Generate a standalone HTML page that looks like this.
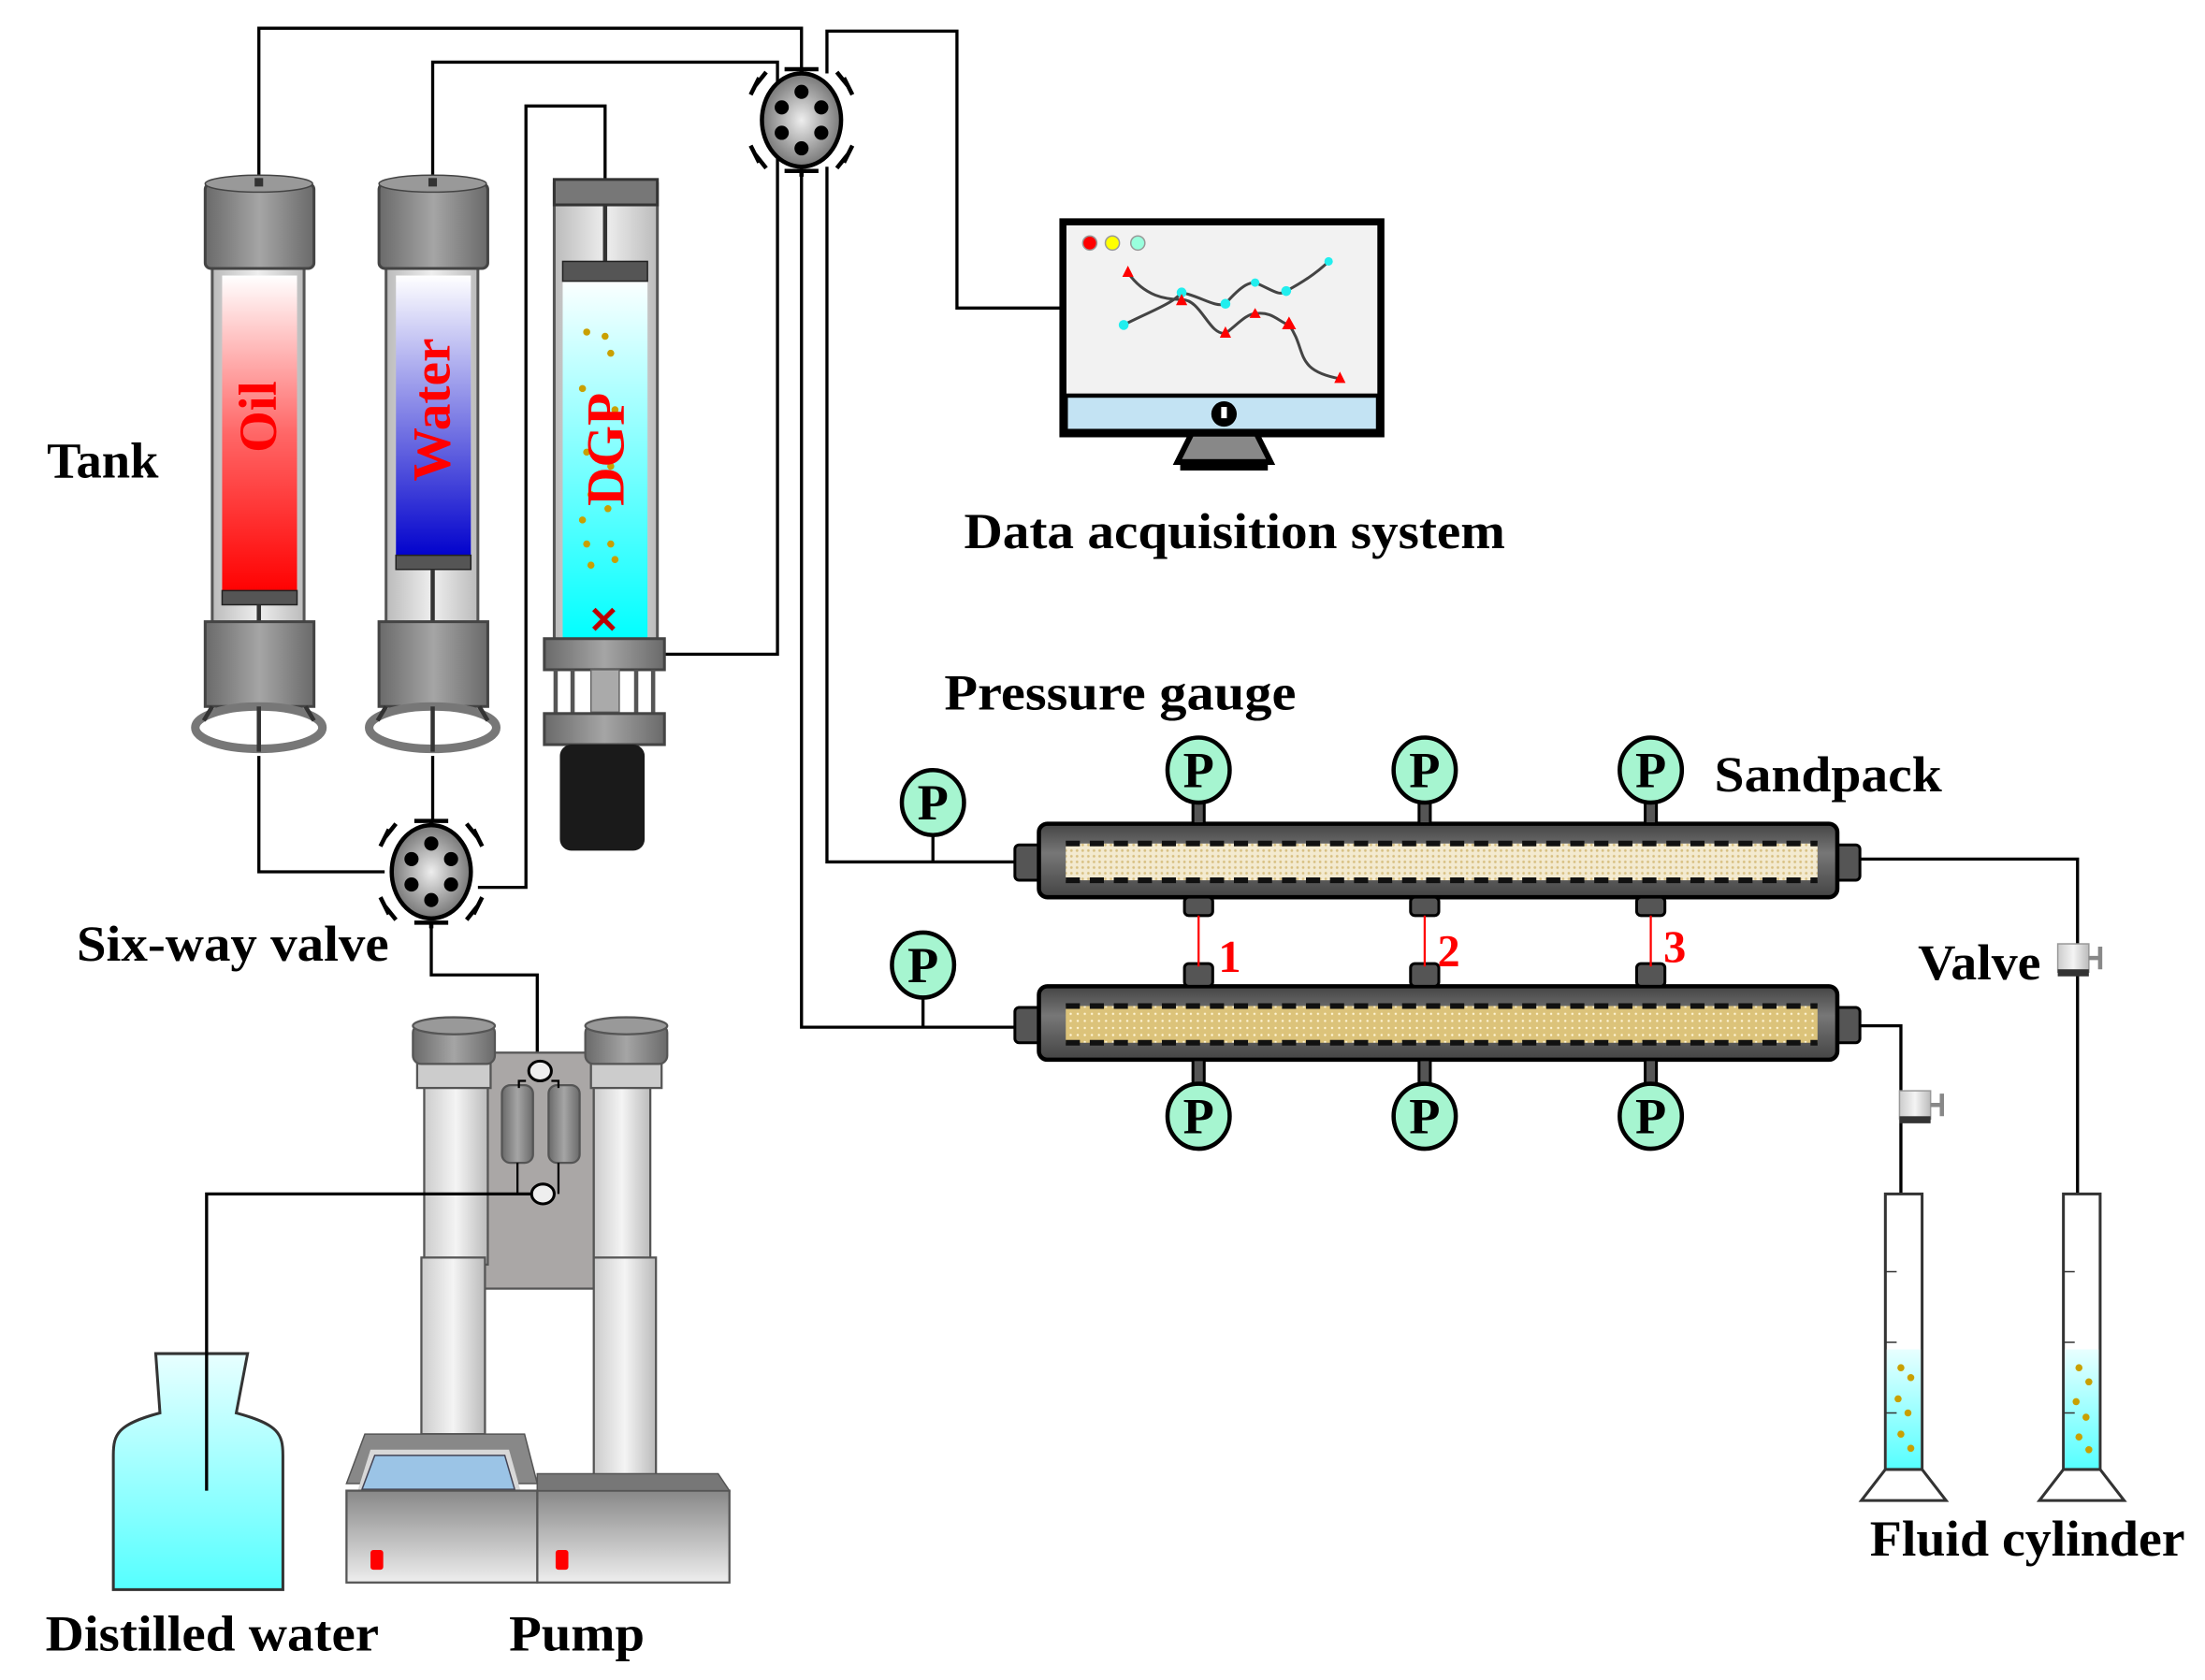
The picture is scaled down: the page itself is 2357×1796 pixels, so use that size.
<!DOCTYPE html>
<html><head><meta charset="utf-8"><style>html,body{margin:0;padding:0;background:#fff}svg{display:block}text{font-family:"Liberation Serif",serif;font-weight:bold}</style></head>
<body>
<svg width="2357" height="1796" viewBox="0 0 1560 1189" xmlns="http://www.w3.org/2000/svg">
<defs>
<linearGradient id="gcap" x1="0" x2="1"><stop offset="0" stop-color="#6a6a6a"/><stop offset="0.5" stop-color="#a5a5a5"/><stop offset="1" stop-color="#6a6a6a"/></linearGradient>
<linearGradient id="glass" x1="0" x2="1"><stop offset="0" stop-color="#bbb"/><stop offset="0.5" stop-color="#eee"/><stop offset="1" stop-color="#bbb"/></linearGradient>
<linearGradient id="red" x1="0" y1="0" x2="0" y2="1"><stop offset="0" stop-color="#fff"/><stop offset="0.5" stop-color="#f66"/><stop offset="1" stop-color="#f00"/></linearGradient>
<linearGradient id="blue" x1="0" y1="0" x2="0" y2="1"><stop offset="0" stop-color="#fff"/><stop offset="1" stop-color="#00c"/></linearGradient>
<linearGradient id="cyan" x1="0" y1="0" x2="0" y2="1"><stop offset="0" stop-color="#fff"/><stop offset="1" stop-color="#0ff"/></linearGradient>
<linearGradient id="lcyan" x1="0" y1="0" x2="0" y2="1"><stop offset="0" stop-color="#e8ffff"/><stop offset="1" stop-color="#5ff"/></linearGradient>
<linearGradient id="pipe" x1="0" y1="0" x2="0" y2="1"><stop offset="0" stop-color="#444"/><stop offset="0.4" stop-color="#777"/><stop offset="1" stop-color="#444"/></linearGradient>
<linearGradient id="col" x1="0" x2="1"><stop offset="0" stop-color="#ccc"/><stop offset="0.5" stop-color="#f4f4f4"/><stop offset="1" stop-color="#bbb"/></linearGradient>
<linearGradient id="gray" x1="0" y1="0" x2="0" y2="1"><stop offset="0" stop-color="#888"/><stop offset="1" stop-color="#eee"/></linearGradient>
<pattern id="sand1" width="4" height="4" patternUnits="userSpaceOnUse"><rect width="4" height="4" fill="#f3ead0"/><circle cx="2" cy="2" r="0.9" fill="#d7bf80"/></pattern>
<pattern id="sand2" width="5" height="5" patternUnits="userSpaceOnUse"><rect width="5" height="5" fill="#dcc37a"/><circle cx="2.5" cy="2.5" r="0.8" fill="#fff5d5"/></pattern>
<radialGradient id="valveg"><stop offset="0" stop-color="#eee"/><stop offset="1" stop-color="#777"/></radialGradient>
<g id="gauge"><ellipse cx="0" cy="0" rx="22" ry="23" fill="#a6f5d0" stroke="#000" stroke-width="3"/><text x="0" y="12" font-size="36" text-anchor="middle">P</text></g>
<g id="valve"><ellipse cx="0" cy="0" rx="28" ry="33" fill="url(#valveg)" stroke="#000" stroke-width="3"/>
<circle cx="0" cy="-20" r="5"/><circle cx="0" cy="20" r="5"/><circle cx="-14" cy="-9" r="5"/><circle cx="14" cy="-9" r="5"/><circle cx="-14" cy="9" r="5"/><circle cx="14" cy="9" r="5"/>
<g stroke="#000" stroke-width="3" fill="none"><path d="M-12 -36h24M0 -36v4M-12 36h24M0 36v4M-30 -30l-6 12M30 -30l6 12M-30 30l-6 -12M30 30l6 -12M-33 -24l8 -10M33 -24l-8 -10M-33 24l8 10M33 24l-8 10"/></g></g>
<g id="smallvalve"><rect x="-14" y="-10" width="22" height="20" fill="url(#col)" stroke="#999"/><rect x="-14" y="8" width="22" height="5" fill="#333"/><path d="M8 0h8M16 -8v16" stroke="#888" stroke-width="3"/></g>
</defs>

<g fill="none" stroke="#000" stroke-width="2.2">
<path d="M183 128V20H567V52"/>
<path d="M306 128V44H550V463H468"/>
<path d="M428 128V75H372V628H338"/>
<path d="M585 52V22H677V218H752"/>
<path d="M567 118V727H720"/>
<path d="M585 118V610H720"/>
<path d="M660 590V610M653 705V727"/>
<path d="M183 535V617H272"/>
<path d="M306 535V582"/>
<path d="M305 652V690H380V750"/>
<path d="M1315 608H1470V845"/>
<path d="M1315 726H1345V845"/>
</g>

<g>
<rect x="150" y="185" width="65" height="260" fill="url(#glass)" stroke="#555" stroke-width="2"/>
<rect x="157" y="195" width="53" height="225" fill="url(#red)"/>
<rect x="157" y="418" width="53" height="10" fill="#555" stroke="#222"/>
<path d="M183 428v15" stroke="#333" stroke-width="3"/>
<rect x="145" y="130" width="77" height="60" rx="4" fill="url(#gcap)" stroke="#444" stroke-width="2"/>
<ellipse cx="183" cy="130" rx="38" ry="6" fill="#999" stroke="#444"/>
<rect x="180" y="126" width="6" height="6" fill="#333"/>
<rect x="145" y="440" width="77" height="60" fill="url(#gcap)" stroke="#444" stroke-width="2"/>
<ellipse cx="183" cy="515" rx="45" ry="15" fill="#fff" stroke="#777" stroke-width="6"/>
<path d="M150 500l-6 10M216 500l6 10M183 500v32" stroke="#333" stroke-width="3"/>
<text transform="translate(195 295) rotate(-90)" font-size="38" fill="#f00" text-anchor="middle">Oil</text>
</g>
<g>
<rect x="273" y="185" width="65" height="260" fill="url(#glass)" stroke="#555" stroke-width="2"/>
<rect x="280" y="195" width="53" height="200" fill="url(#blue)"/>
<rect x="280" y="393" width="53" height="10" fill="#555" stroke="#222"/>
<path d="M306 403v40" stroke="#333" stroke-width="3"/>
<rect x="268" y="130" width="77" height="60" rx="4" fill="url(#gcap)" stroke="#444" stroke-width="2"/>
<ellipse cx="306" cy="130" rx="38" ry="6" fill="#999" stroke="#444"/>
<rect x="303" y="126" width="6" height="6" fill="#333"/>
<rect x="268" y="440" width="77" height="60" fill="url(#gcap)" stroke="#444" stroke-width="2"/>
<ellipse cx="306" cy="515" rx="45" ry="15" fill="#fff" stroke="#777" stroke-width="6"/>
<path d="M273 500l-6 10M339 500l6 10M306 500v32" stroke="#333" stroke-width="3"/>
<text transform="translate(318 290) rotate(-90)" font-size="38" fill="#f00" text-anchor="middle">Water</text>
</g>
<g>
<rect x="392" y="130" width="73" height="330" fill="url(#glass)" stroke="#555" stroke-width="2"/>
<rect x="392" y="127" width="73" height="18" fill="#777" stroke="#333" stroke-width="2"/>
<path d="M428 145v40" stroke="#333" stroke-width="3"/>
<rect x="398" y="195" width="60" height="258" fill="url(#cyan)"/>
<rect x="398" y="185" width="60" height="14" fill="#555" stroke="#222"/>
<g fill="#c9a000">
<circle cx="415" cy="235" r="2.5"/><circle cx="428" cy="238" r="2.5"/><circle cx="432" cy="250" r="2.5"/><circle cx="412" cy="275" r="2.5"/><circle cx="435" cy="290" r="2.5"/><circle cx="415" cy="320" r="2.5"/><circle cx="432" cy="330" r="2.5"/><circle cx="418" cy="350" r="2.5"/><circle cx="430" cy="360" r="2.5"/><circle cx="412" cy="368" r="2.5"/><circle cx="415" cy="385" r="2.5"/><circle cx="432" cy="385" r="2.5"/><circle cx="435" cy="396" r="2.5"/><circle cx="418" cy="400" r="2.5"/>
</g>
<text x="427" y="448" font-size="26" fill="#b00" text-anchor="middle">✕</text>
<text transform="translate(441 318) rotate(-90)" font-size="38" fill="#f00" text-anchor="middle">DGP</text>
<rect x="385" y="452" width="85" height="22" fill="url(#gcap)" stroke="#444" stroke-width="2"/>
<path d="M393 474v34M405 474v34M450 474v34M462 474v34" stroke="#555" stroke-width="3"/>
<rect x="418" y="474" width="20" height="30" fill="#aaa" stroke="#666"/>
<rect x="385" y="505" width="85" height="22" fill="url(#gcap)" stroke="#444" stroke-width="2"/>
<rect x="396" y="527" width="60" height="75" rx="8" fill="#1a1a1a"/>
</g>

<use href="#valve" x="567" y="85"/>
<use href="#valve" x="305" y="617"/>

<g>
<rect x="752" y="157" width="225" height="150" fill="#f2f2f2" stroke="#000" stroke-width="5"/>
<rect x="754" y="280" width="221" height="25" fill="#c3e3f3" stroke="#000" stroke-width="3"/>
<circle cx="866" cy="293" r="9"/><rect x="864" y="288" width="4" height="8" fill="#fff"/>
<path d="M843 307h46l10 20h-66z" fill="#888" stroke="#000" stroke-width="4"/>
<rect x="835" y="325" width="62" height="8"/>
<circle cx="771" cy="172" r="5" fill="#f00" stroke="#999"/><circle cx="787" cy="172" r="5" fill="#ff0" stroke="#999"/><circle cx="805" cy="172" r="5" fill="#9fd" stroke="#999"/>
<g fill="none" stroke="#444" stroke-width="2"><path d="M795 230C810 222 830 215 836 207C850 210 860 218 867 215C880 200 885 200 888 200C900 205 905 210 910 206C925 198 935 190 940 185"/><path d="M798 193C810 210 825 212 836 212C850 212 855 237 867 236C875 230 882 222 888 222C900 220 905 228 912 230C925 248 915 262 948 268"/></g>
<g fill="#2ee"><circle cx="795" cy="230" r="3.5"/><circle cx="836" cy="207" r="3.5"/><circle cx="867" cy="215" r="3.5"/><circle cx="888" cy="200" r="3"/><circle cx="910" cy="206" r="3.5"/><circle cx="940" cy="185" r="3"/></g>
<g fill="#f00"><path d="M798 188l4 8h-8z"/><path d="M836 208l4 8h-8z"/><path d="M867 231l4 8h-8z"/><path d="M888 218l4 7h-8z"/><path d="M912 224l5 9h-10z"/><path d="M948 263l4 8h-8z"/></g>
</g>

<g>
<rect x="718" y="598" width="20" height="25" rx="3" fill="#555" stroke="#000" stroke-width="2"/>
<rect x="1298" y="598" width="18" height="25" rx="3" fill="#555" stroke="#000" stroke-width="2"/>
<rect x="735" y="583" width="565" height="52" rx="6" fill="url(#pipe)" stroke="#000" stroke-width="3"/>
<rect x="754" y="597" width="532" height="26" fill="url(#sand1)"/>
<path d="M754 597H1286M754 623H1286" stroke="#111" stroke-width="4" stroke-dasharray="10 7"/>
<rect x="718" y="713" width="20" height="25" rx="3" fill="#555" stroke="#000" stroke-width="2"/>
<rect x="1298" y="713" width="18" height="25" rx="3" fill="#555" stroke="#000" stroke-width="2"/>
<rect x="735" y="698" width="565" height="52" rx="6" fill="url(#pipe)" stroke="#000" stroke-width="3"/>
<rect x="754" y="712" width="532" height="26" fill="url(#sand2)"/>
<path d="M754 712H1286M754 738H1286" stroke="#111" stroke-width="4" stroke-dasharray="10 7"/>
<g fill="#555" stroke="#000" stroke-width="2">
<rect x="838" y="635" width="20" height="13" rx="3"/><rect x="998" y="635" width="20" height="13" rx="3"/><rect x="1158" y="635" width="20" height="13" rx="3"/>
<rect x="838" y="682" width="20" height="16" rx="3"/><rect x="998" y="682" width="20" height="16" rx="3"/><rect x="1158" y="682" width="20" height="16" rx="3"/>
<rect x="844" y="566" width="8" height="17"/><rect x="1004" y="566" width="8" height="17"/><rect x="1164" y="566" width="8" height="17"/>
<rect x="844" y="750" width="8" height="18"/><rect x="1004" y="750" width="8" height="18"/><rect x="1164" y="750" width="8" height="18"/>
</g>
<path d="M848 648v36M1008 648v36M1168 648v36" stroke="#f00" stroke-width="1.5"/>
<g fill="#f00" font-size="32"><text x="862" y="688">1</text><text x="1017" y="684">2</text><text x="1177" y="681">3</text></g>
</g>
<use href="#gauge" x="848" y="545"/><use href="#gauge" x="1008" y="545"/><use href="#gauge" x="1168" y="545"/>
<use href="#gauge" x="848" y="790"/><use href="#gauge" x="1008" y="790"/><use href="#gauge" x="1168" y="790"/>
<use href="#gauge" x="660" y="568"/><use href="#gauge" x="653" y="683"/>
<use href="#smallvalve" x="1470" y="678"/>
<use href="#smallvalve" x="1358" y="782"/>

<g>
<rect x="1334" y="845" width="26" height="195" fill="#fff" stroke="#333" stroke-width="2"/>
<rect x="1335" y="955" width="24" height="85" fill="url(#lcyan)"/>
<path d="M1334 1040h26l17 22h-60z" fill="#fff" stroke="#333" stroke-width="2"/>
<path d="M1334 900h8M1334 950h8M1334 1000h8" stroke="#333"/>
<rect x="1460" y="845" width="26" height="195" fill="#fff" stroke="#333" stroke-width="2"/>
<rect x="1461" y="955" width="24" height="85" fill="url(#lcyan)"/>
<path d="M1460 1040h26l17 22h-60z" fill="#fff" stroke="#333" stroke-width="2"/>
<path d="M1460 900h8M1460 950h8M1460 1000h8" stroke="#333"/>
<g fill="#c9a000"><circle cx="1345" cy="968" r="2.5"/><circle cx="1352" cy="975" r="2.5"/><circle cx="1343" cy="990" r="2.5"/><circle cx="1350" cy="1000" r="2.5"/><circle cx="1345" cy="1015" r="2.5"/><circle cx="1352" cy="1025" r="2.5"/>
<circle cx="1471" cy="968" r="2.5"/><circle cx="1478" cy="978" r="2.5"/><circle cx="1469" cy="992" r="2.5"/><circle cx="1476" cy="1003" r="2.5"/><circle cx="1471" cy="1017" r="2.5"/><circle cx="1478" cy="1026" r="2.5"/></g>
</g>

<path d="M110 958h65l-8 42c30 8 33 15 33 30v95H80v-95c0-15 3-22 33-30z" fill="url(#lcyan)" stroke="#333" stroke-width="2"/>

<g stroke="#555" stroke-width="1.5">
<rect x="335" y="745" width="85" height="167" fill="#aaa7a6"/>
<rect x="300" y="760" width="45" height="135" fill="url(#col)"/>
<rect x="420" y="760" width="40" height="135" fill="url(#col)"/>
<rect x="298" y="890" width="45" height="125" fill="url(#col)"/>
<rect x="420" y="890" width="44" height="155" fill="url(#col)"/>
<rect x="295" y="750" width="52" height="20" fill="#ccc"/>
<rect x="418" y="750" width="50" height="20" fill="#ccc"/>
<rect x="292" y="725" width="58" height="28" rx="6" fill="url(#gcap)"/>
<rect x="414" y="725" width="58" height="28" rx="6" fill="url(#gcap)"/>
<ellipse cx="321" cy="726" rx="29" ry="6" fill="#999"/>
<ellipse cx="443" cy="726" rx="29" ry="6" fill="#999"/>
<rect x="355" y="768" width="22" height="55" rx="6" fill="url(#gcap)"/>
<rect x="388" y="768" width="22" height="55" rx="6" fill="url(#gcap)"/>
</g>
<g fill="none" stroke="#000" stroke-width="1.5"><path d="M372 765h-5v5M390 765h5v5M366 823v22M395 823v22"/></g>
<path d="M376 845H146V1055" fill="none" stroke="#000" stroke-width="2.2"/>
<ellipse cx="382" cy="758" rx="8" ry="7" fill="#eee" stroke="#000" stroke-width="2"/>
<ellipse cx="384" cy="845" rx="8" ry="7" fill="#eee" stroke="#000" stroke-width="2"/>
<rect x="380" y="1055" width="136" height="65" fill="url(#gray)" stroke="#555" stroke-width="1.5"/>
<path d="M380 1043h128l8 12H380z" fill="#777" stroke="#555"/>
<path d="M258 1015h113l9 35H245z" fill="#888" stroke="#555"/>
<path d="M262 1026h98l9 32H252z" fill="#d8d8d8"/>
<path d="M265 1030h92l7 24H256z" fill="#9bc4e6" stroke="#445"/>
<rect x="245" y="1055" width="135" height="65" fill="url(#gray)" stroke="#555" stroke-width="1.5"/>
<rect x="262" y="1097" width="9" height="14" rx="2" fill="#f00"/>
<rect x="393" y="1097" width="9" height="14" rx="2" fill="#f00"/>

<g font-size="36" fill="#000" lengthAdjust="spacingAndGlyphs">
<text x="33" y="338" textLength="79" lengthAdjust="spacingAndGlyphs">Tank</text>
<text x="682" y="388" textLength="383" lengthAdjust="spacingAndGlyphs">Data acquisition system</text>
<text x="668" y="502" textLength="249" lengthAdjust="spacingAndGlyphs">Pressure gauge</text>
<text x="1213" y="560" textLength="161" lengthAdjust="spacingAndGlyphs">Sandpack</text>
<text x="1357" y="693" textLength="87" lengthAdjust="spacingAndGlyphs">Valve</text>
<text x="54" y="680" textLength="221" lengthAdjust="spacingAndGlyphs">Six-way valve</text>
<text x="32" y="1168" textLength="236" lengthAdjust="spacingAndGlyphs">Distilled water</text>
<text x="360" y="1168" textLength="96" lengthAdjust="spacingAndGlyphs">Pump</text>
<text x="1323" y="1101" textLength="223" lengthAdjust="spacingAndGlyphs">Fluid cylinder</text>
</g>
</svg>
</body></html>
